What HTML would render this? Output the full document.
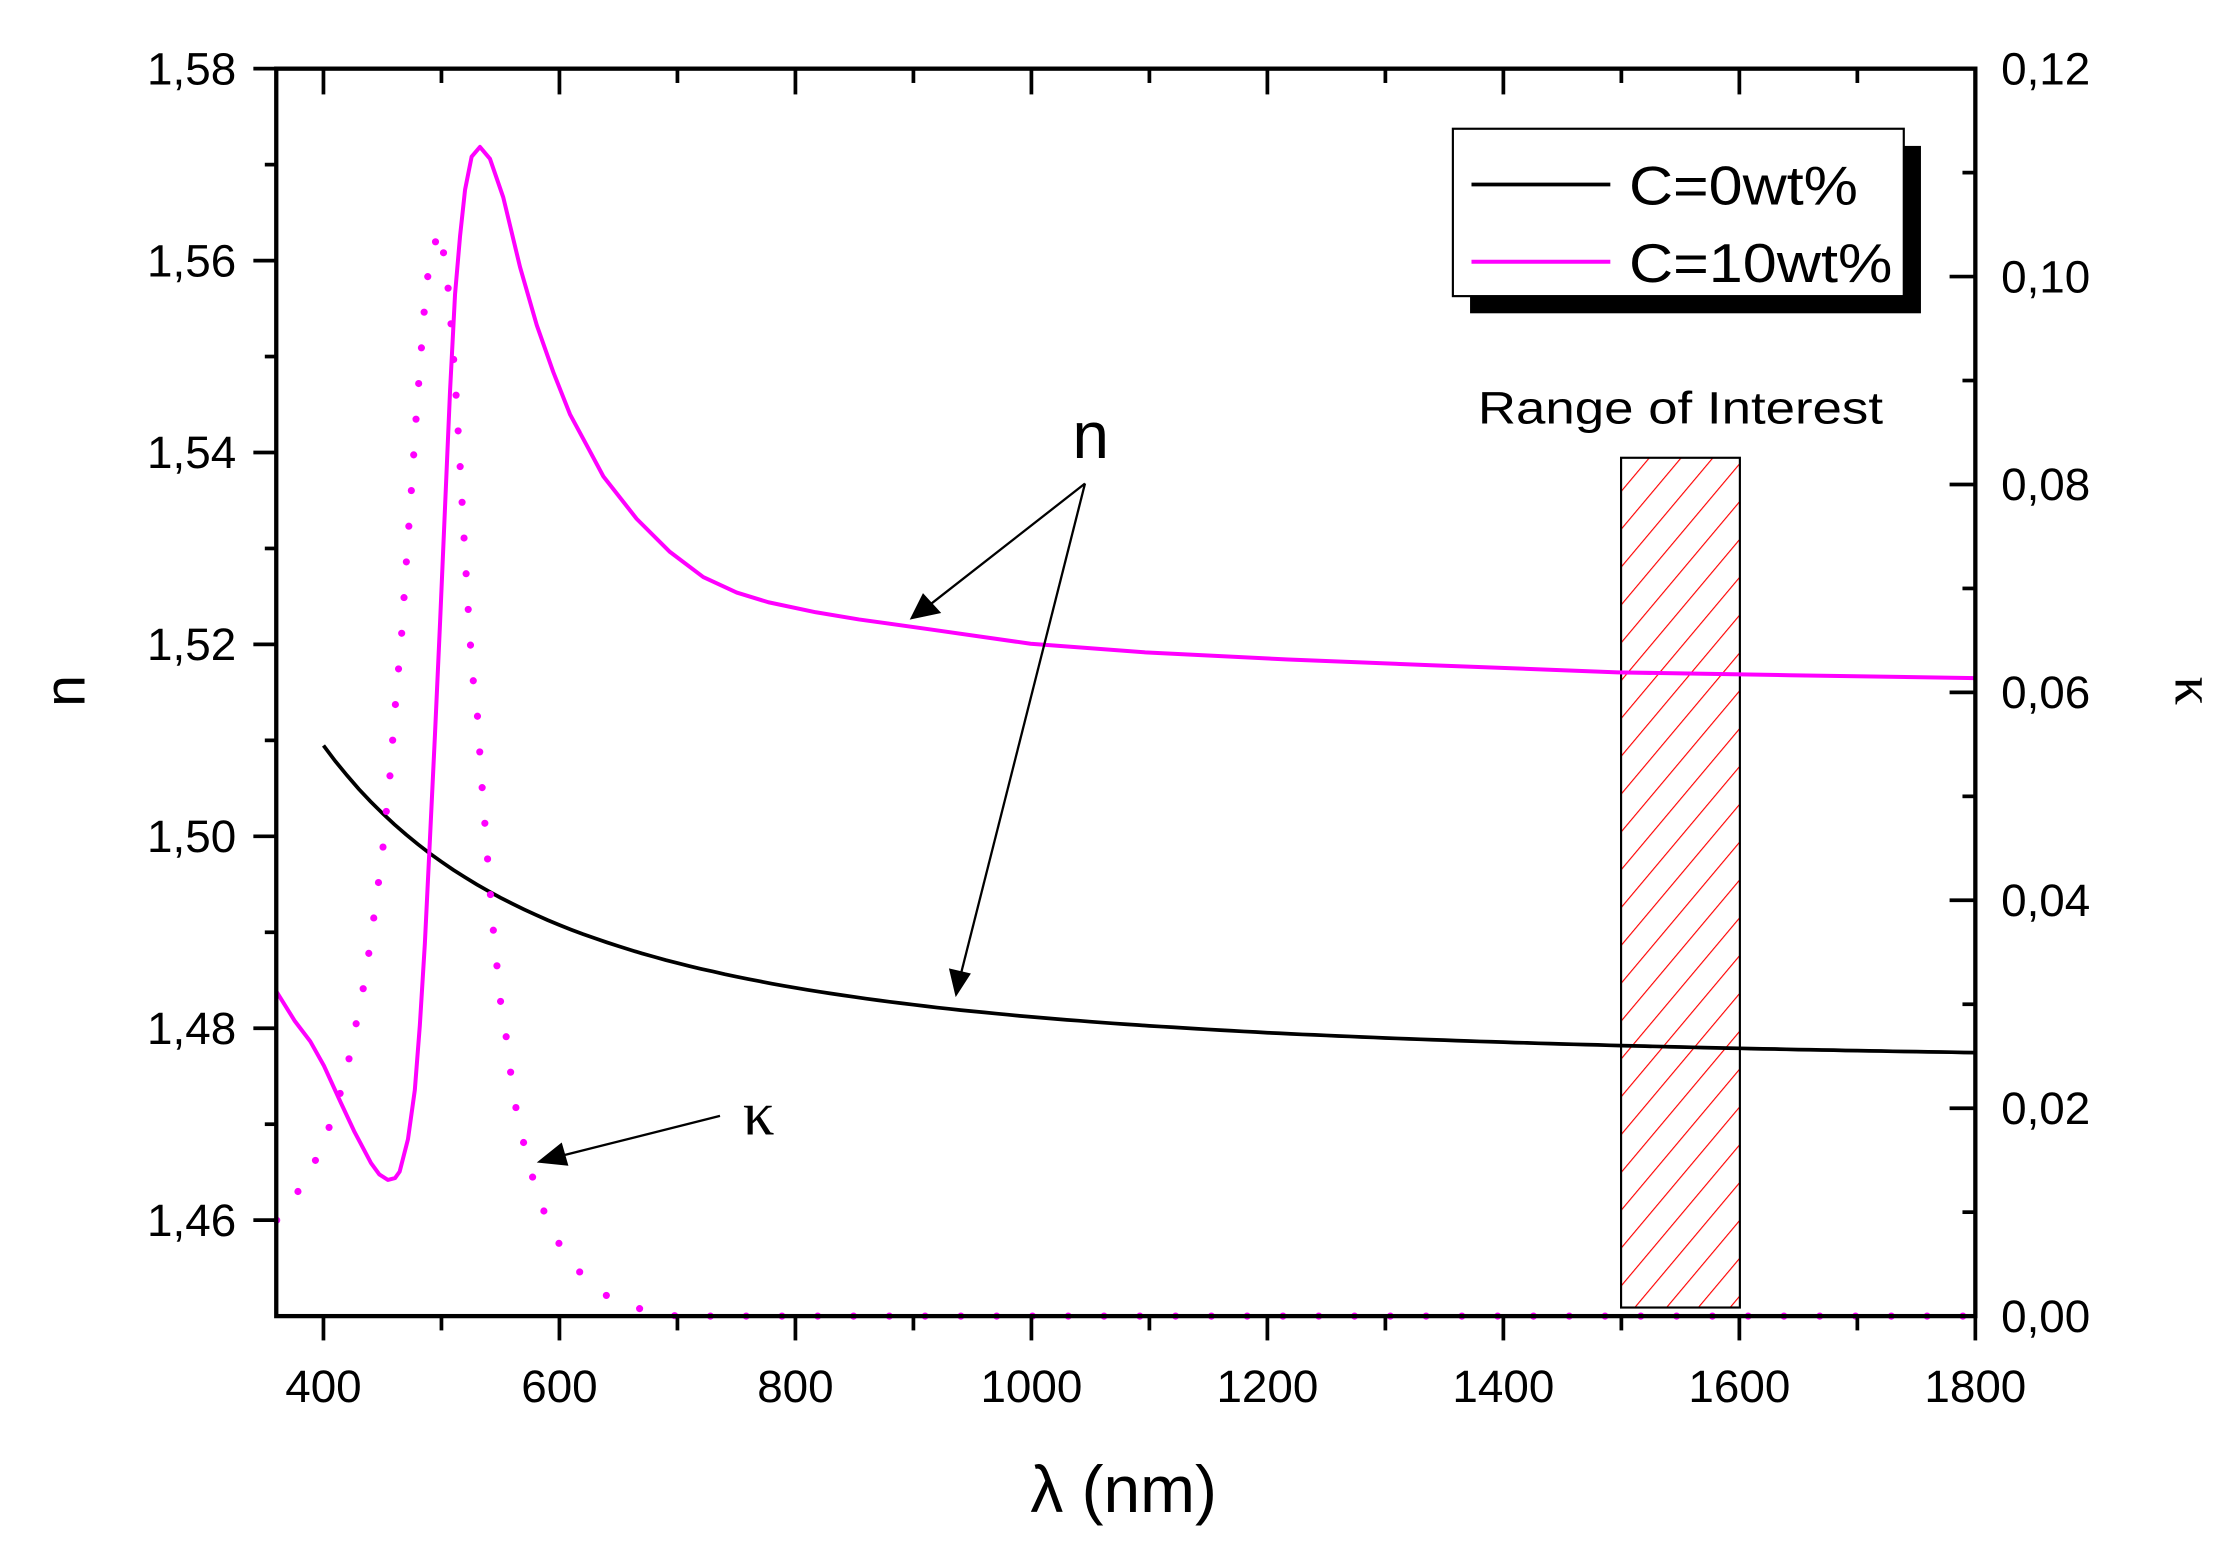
<!DOCTYPE html>
<html><head><meta charset="utf-8"><style>html,body{margin:0;padding:0;background:#fff}svg{display:block}</style></head>
<body>
<svg width="2233" height="1545" viewBox="0 0 1560 1080" preserveAspectRatio="none" xmlns="http://www.w3.org/2000/svg" font-family="Liberation Sans, Arial, sans-serif">
<defs>
<pattern id="hatch" patternUnits="userSpaceOnUse" width="17" height="17" patternTransform="rotate(40)">
<line x1="0" y1="0" x2="0" y2="17" stroke="#ff0000" stroke-width="1.6"/>
</pattern>
</defs>
<rect width="1560" height="1080" fill="#fff"/>
<rect x="1132.5" y="320" width="83" height="594" fill="url(#hatch)" stroke="#000" stroke-width="1.5"/>
<path id="blk" fill="none" stroke="#000" stroke-width="2.6" d=""/>
<path fill="none" stroke="#ff00ff" stroke-width="2.8" stroke-linejoin="round" d="M193.3,693.4 L206,713.8 L216.8,728 L226.3,745 L238,770.6 L247.4,790.7 L259.2,813 L265,821 L271,824.8 L276,823.5 L279.2,819 L285,796.4 L289.8,762 L293.3,716.8 L296.8,659.8 L300.4,585.8 L303.9,513 L307.4,435.9 L310.9,354.6 L314.4,273.4 L317.9,205.7 L321.4,165 L324.9,132.6 L329.5,109.5 L335.3,102.7 L342.3,111 L351.6,138 L363.3,186.7 L375,227.3 L386.5,260 L398.2,289.6 L409.9,311.3 L421.5,333 L444.8,362.7 L468,385.8 L491.3,403.4 L514.7,414.2 L536.8,421 L570,428 L600,433 L650,440 L720,450 L800,456 L900,461 L1000,465 L1130,470 L1250,472 L1380,474"/>
<path fill="none" stroke="#ff00ff" stroke-width="5" stroke-linecap="round" stroke-dasharray="0 25" d="M193.3,853 L212,827.7 L225,802 L234.5,775 L242,749.4 L247,724 L252.6,698 L257,671 L260.6,645.5 L264,620 L267.4,594 L269.8,568 L272.5,541.6 L276,495 L280.6,443 L284,391 L287.6,339.5 L291,287.5 L295,235.5 L297,209 L300,183.5 L306.7,160.7 L311.6,185.6 L314,211.9 L317.9,263.9 L320.9,315.6 L323.7,367.5 L326.7,419.6 L330,471.6 L333,491.8 L336.3,543.5 L340.3,596.3 L344.4,647.8 L349.7,700 L353.8,725.9 L357,751.7 L361,778 L366.9,803.5 L374,830 L383.2,855.5 L397.2,881.7 L421,904.5 L447.4,915 L472.8,920 L1380,920"/>
<rect x="193" y="48" width="1187" height="872" fill="none" stroke="#000" stroke-width="3"/>
<g id="ticks" stroke="#000" stroke-width="2.6"></g>
<g id="labels" font-size="32" fill="#000"></g>
<rect x="1027" y="102" width="315" height="117" fill="#000"/>
<rect x="1015" y="90" width="315" height="117" fill="#fff" stroke="#000" stroke-width="1.5"/>
<line x1="1028" y1="129" x2="1125" y2="129" stroke="#000" stroke-width="2.6"/>
<line x1="1028" y1="183" x2="1125" y2="183" stroke="#ff00ff" stroke-width="2.8"/>
<text x="1138" y="143" font-size="38" textLength="160" lengthAdjust="spacingAndGlyphs">C=0wt%</text>
<text x="1138" y="197" font-size="38" textLength="184" lengthAdjust="spacingAndGlyphs">C=10wt%</text>
<text x="1174" y="296" font-size="32" text-anchor="middle" textLength="283" lengthAdjust="spacingAndGlyphs">Range of Interest</text>
<text x="762" y="320" font-size="46" text-anchor="middle">n</text>
<g stroke="#000" stroke-width="1.6" fill="#000">
<line x1="758" y1="338" x2="648" y2="424"/>
<polygon points="637,432 645,416 656,428"/>
<line x1="758" y1="338" x2="671" y2="682"/>
<polygon points="668,695 664,678 677,681"/>
<line x1="503" y1="780" x2="392" y2="808"/>
<polygon points="377,812 392,800 396,814"/>
</g>
<text x="530" y="793" font-size="44" text-anchor="middle" font-family="Liberation Serif, serif">κ</text>
<text x="785" y="1057" font-size="46" text-anchor="middle">λ (nm)</text>
<text transform="translate(59,483) rotate(-90)" font-size="40" text-anchor="middle">n</text>
<text transform="translate(1520,483) rotate(90)" font-size="40" text-anchor="middle" font-family="Liberation Serif, serif">κ</text>
<script>
(function(){
var NS="http://www.w3.org/2000/svg";
function X(l){return 193+(l-360)*1187/1440;}
function Yn(n){return 920-(n-1.45)*6707.7;}
function Yk(k){return 920-k*7266.7;}
var d="";
for(var l=400;l<=1800;l+=10){var n=1.4758+5386/(l*l);d+=(l==400?"M":"L")+X(l).toFixed(1)+","+Yn(n).toFixed(1)+" ";}
document.getElementById("blk").setAttribute("d",d);
var g=document.getElementById("ticks"),lb=document.getElementById("labels");
function ln(a,b,c,e){var t=document.createElementNS(NS,"line");t.setAttribute("x1",a);t.setAttribute("y1",b);t.setAttribute("x2",c);t.setAttribute("y2",e);g.appendChild(t);}
function tx(x,y,s,anc){var t=document.createElementNS(NS,"text");t.setAttribute("x",x);t.setAttribute("y",y);t.setAttribute("text-anchor",anc);t.textContent=s;lb.appendChild(t);}
for(var l=400;l<=1800;l+=100){var x=X(l),maj=(l%200==0);
ln(x,920,x,maj?937:930);ln(x,48,x,maj?66:58);
if(maj)tx(x,980,String(l),"middle");}
for(var i=1;i<=13;i++){var n=1.45+i*0.01,y=Yn(n),maj=(i%2==1);
ln(193,y,maj?177:185,y);
if(maj)tx(165,y+11,n.toFixed(2).replace(".",","),"end");}
for(var i=0;i<=12;i++){var k=i*0.01,y=Yk(k),maj=(i%2==0);
ln(1380,y,maj?1362:1371,y);
if(maj)tx(1398,y+11,k.toFixed(2).replace(".",","),"start");}
})();
</script>
</svg>
</body></html>
